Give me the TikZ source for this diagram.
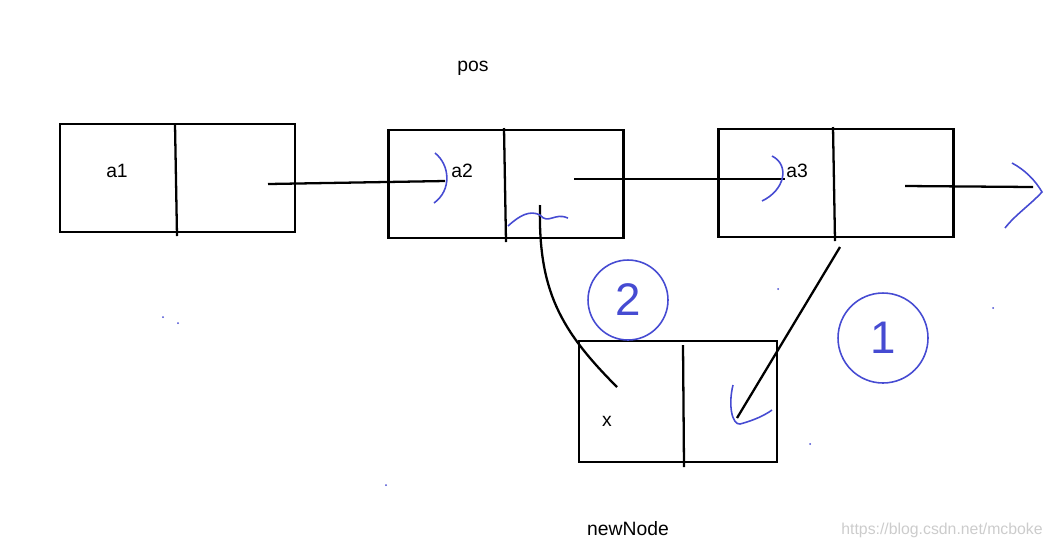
\documentclass[tikz,border=0pt]{standalone}
\usepackage{fontspec}
\setmainfont{Liberation Sans}
\usetikzlibrary{positioning, arrows.meta}
\definecolor{pen}{RGB}{70,75,210}
\begin{document}
\begin{tikzpicture}[x=0.02cm, y=-0.02cm,
            box/.style={draw, line width=1.3pt, rectangle, minimum width=4.7cm, minimum height=2.16cm, inner sep=0},
            lbl/.style={font=\fontsize{11}{13}\selectfont},
            link/.style={line width=1.3pt},
            ink/.style={draw=pen, line width=0.9pt}]
    \useasboundingbox (0,0) rectangle (1053,549);
    % Nodes
    \node[box] (b1) at (177.5,178) {};
    \node[box] (b2) at (506,184) {};
    \node[box] (b3) at (836,183) {};
    \node[box, minimum width=3.96cm, minimum height=2.42cm] (nn) at (678,401.5) {};
    \node[lbl] (a1) at (117,171) {a1};
    \node[lbl] (a2) at (462,171) {a2};
    \node[lbl] (a3) at (797,171) {a3};
    \node[lbl] (x) at (607,421) {x};
    \node[lbl] (pos) at (473,68) {pos};
    \node[lbl] (newnode) at (628,529) {newNode};
    \node[text=gray!40, font=\fontsize{9}{11}\selectfont] (url) at (942,530) {https://blog.csdn.net/mcboke};

    % Dividers
    \draw[link] (175,124) -- (177,236);
    \draw[link] (504,128) -- (506,242);
    \draw[link] (833,127) -- (835,241);
    \draw[link] (683,345) -- (684,467);

    % Edges
    \coordinate (p1) at (268,184);
    \coordinate (q1) at (445,181);
    \coordinate (p2) at (574,179);
    \coordinate (q2) at (785,179);
    \coordinate (p3) at (905,186);
    \coordinate (q3) at (1033,187);
    \coordinate (p4) at (540,205);
    \coordinate (q4) at (617,387);
    \coordinate (p5) at (840,247);
    \coordinate (q5) at (737,418);
    \draw[link] (p1) -- (q1);
    \draw[link] (p2) -- (q2);
    \draw[link] (p3) -- (q3);
    \draw[link] (p4) .. controls (538,290) and (560,330) .. (q4);
    \draw[link] (p5) -- (q5);

    % Pen marks
    \draw[ink] (435,153) .. controls (450,165) and (452,190) .. (434,203);
    \draw[ink] (772,156) .. controls (790,165) and (785,190) .. (762,201);
    \draw[ink] (1012,163) .. controls (1025,170) and (1035,180) .. (1042,192) .. controls (1030,205) and (1015,215) .. (1005,228);
    \draw[ink] (508,226) .. controls (520,215) and (530,210) .. (540,215) .. controls (548,225) and (555,212) .. (568,218);
    \draw[ink] (733,385) .. controls (728,405) and (732,425) .. (740,424) .. controls (755,420) and (765,415) .. (772,410);
    \node[ink, circle, minimum size=1.6cm, text=pen, font=\fontsize{26}{28}\selectfont] (c2) at (628,300) {2};
    \node[ink, circle, minimum size=1.8cm, text=pen, font=\fontsize{26}{28}\selectfont] (c1) at (883,338) {1};
    \fill[pen] (163,317) circle (1) (178,323) circle (1) (386,485) circle (1) (778,289) circle (1) (810,444) circle (1) (993,308) circle (1);
\end{tikzpicture}
\end{document}
